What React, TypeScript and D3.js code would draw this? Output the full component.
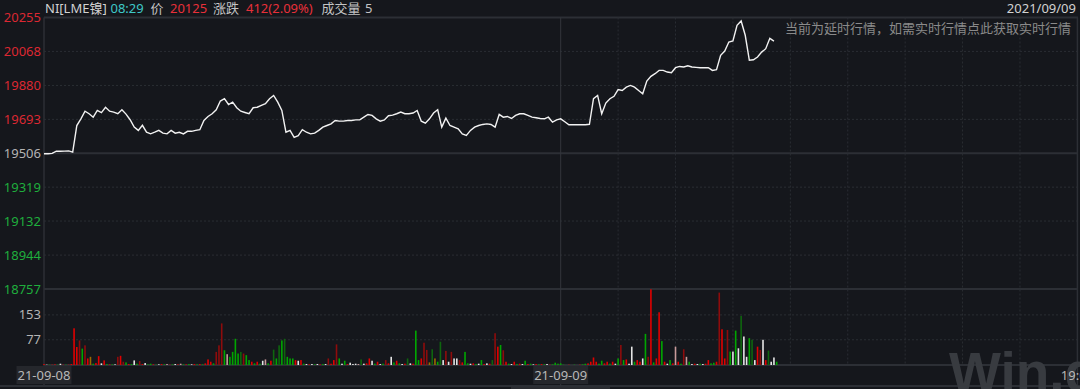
import React, { useRef, useEffect } from 'react';
import * as d3 from 'd3';

// price axis labels (pre-close in the middle)
const priceTicks = [20255, 20068, 19880, 19693, 19506, 19319, 19132, 18944, 18757];
const preClose = 19506;
const volTicks = [153, 77];

// bottom axis: position in hour slots
const dateLabels = [
  { label: '21-09-08', at: 0, box: true },
  { label: '21-09-09', at: 9, box: true },
  { label: '19:00', at: 18, box: false },
];
const hourLines = [10, 11, 12, 13, 14, 15, 16, 17];

// one price sample every 1/14 slot
const prices = [
  19503, 19503, 19505, 19517, 19517, 19518, 19519, 19512,
  19659, 19696, 19738, 19724, 19705, 19742, 19730, 19760,
  19738, 19733, 19724, 19746, 19722, 19691, 19650, 19632,
  19660, 19622, 19613, 19622, 19632, 19617, 19613, 19632,
  19617, 19622, 19613, 19627, 19627, 19632, 19636, 19687,
  19709, 19724, 19746, 19794, 19807, 19775, 19788, 19757,
  19738, 19731, 19724, 19757, 19760, 19770, 19779, 19807,
  19825, 19788, 19742, 19622, 19632, 19594, 19603, 19636,
  19622, 19613, 19617, 19632, 19650, 19659, 19668, 19687,
  19683, 19683, 19687, 19687, 19690, 19690, 19705, 19720,
  19715, 19696, 19683, 19690, 19713, 19716, 19724, 19733,
  19724, 19724, 19728, 19742, 19683, 19672, 19696, 19728,
  19746, 19650, 19700, 19659, 19650, 19641, 19613, 19604,
  19632, 19650, 19659, 19665, 19668, 19665, 19650, 19720,
  19705, 19709, 19698, 19715, 19724, 19724, 19715, 19705,
  19702, 19698, 19696, 19705, 19678, 19690, 19696, 19680,
  19663, 19663, 19663, 19663, 19663, 19666, 19807, 19825,
  19724, 19783, 19807, 19820, 19857, 19852, 19871, 19880,
  19871, 19852, 19834, 19904, 19930, 19945, 19963, 19963,
  19954, 19950, 19978, 19985, 19982, 19989, 19982, 19980,
  19978, 19978, 19978, 19963, 19967, 20046, 20070, 20120,
  20126, 20212, 20236, 20157, 20019, 20022, 20037, 20064,
  20083, 20140, 20125,
];

// one volume bar every 1/21 slot
const volumes = [
  3, 1, 1, 1, 2, 1, 4, 1, 1, 1,
  3, 112, 55, 75, 50, 60, 20, 25, 4, 6,
  27, 5, 14, 3, 2, 2, 2, 25, 28, 10,
  8, 3, 3, 14, 4, 12, 3, 6, 2, 4,
  2, 1, 2, 3, 2, 3, 1, 2, 3, 2,
  4, 2, 2, 3, 2, 3, 2, 3, 2, 5,
  17, 10, 5, 40, 60, 127, 45, 33, 25, 40,
  80, 35, 40, 35, 30, 15, 10, 5, 10, 4,
  13, 17, 5, 13, 47, 20, 60, 75, 80, 25,
  20, 20, 15, 13, 15, 4, 3, 2, 3, 2,
  3, 2, 3, 3, 20, 4, 15, 63, 20, 4,
  13, 3, 7, 3, 4, 3, 17, 4, 5, 20,
  13, 4, 10, 3, 4, 15, 5, 25, 8, 13,
  5, 3, 4, 20, 5, 4, 105, 15, 20, 68,
  46, 8, 48, 20, 10, 71, 15, 43, 10, 40,
  20, 20, 15, 8, 40, 5, 4, 5, 3, 4,
  15, 3, 5, 4, 15, 97, 56, 61, 45, 10,
  4, 3, 10, 3, 4, 3, 13, 3, 4, 2,
  3, 2, 3, 2, 3, 1, 2, 7, 4, 5,
  1, 0, 1, 0, 1, 0, 1, 2, 4, 5,
  10, 23, 10, 4, 13, 5, 10, 4, 10, 4,
  20, 61, 15, 17, 4, 56, 10, 15, 10, 20,
  95, 25, 231, 8, 20, 161, 73, 10, 4, 15,
  5, 56, 10, 4, 48, 25, 10, 3, 4, 3,
  4, 3, 4, 15, 5, 7, 10, 221, 109, 20,
  107, 41, 41, 105, 51, 150, 87, 25, 82, 77,
  15, 56, 46, 77, 15, 44, 10, 23, 10,
];
const volKinds = (
  'rwgrrgwrgr' + 'rrrRgRrogr' + 'rwrgrgwRrR' + 'grgwgRrwgg' + 'rgwrgprgwr' +
  'pgrgwrgrgr' + 'rrgRRRgpgg' + 'ggGRggrgrg' + 'wpgrGgGgGg' + 'ggrwrgwrwg' +
  'wrgwRrrRgw' + 'grwwwpGwrr' + 'wgrwgRrwgr' + 'gwrGwrggrR' + 'RoGogGwRwR' +
  'wwRrggwrgw' + 'grwrGRrgRr' + 'gwrgrwgrgw' + 'rgrgwrgggg' + 'ggrgggrggr' +
  'rrrggrrgrw' + 'gRgrwwgrrw' + 'gRrgrrgrwg' + 'rprgRpgwrw' + 'gwrrggrRrr' +
  'RgwgwGwwgG' + 'wrRwrGwwg'
).split('');

const kindColor = {
  r: '#e00000',
  R: '#8e0c0c',
  g: '#00a600',
  G: '#0e660e',
  w: '#e4e4e4',
  p: '#c89a9a',
  o: '#9a6a00',
};

const W = 1080, H = 389;
const FONT = '"Noto Sans", "Noto Sans CJK SC", sans-serif';

const App = () => {
  const svgRef = useRef(null);

  useEffect(() => {
    const svg = d3.select(svgRef.current);
    svg.selectAll('*').remove();

    const x = d3.scaleLinear().domain([0, 18]).range([44, 1077.4]);
    const yP = d3.scaleLinear().domain([18757, 20255]).range([289, 17.5]);
    const yV = d3.scaleLinear().domain([0, 232]).range([365, 289]);

    svg.append('rect').attr('width', W).attr('height', H).attr('fill', '#15171c');

    // horizontal grid - price panel
    priceTicks.forEach((t, i) => {
      const solid = i === 0 || t === preClose || i === priceTicks.length - 1;
      svg.append('line')
        .attr('x1', 44).attr('x2', 1078)
        .attr('y1', yP(t)).attr('y2', yP(t))
        .attr('stroke', solid ? '#2c2f35' : '#2a2d33')
        .attr('stroke-width', solid ? 2 : 1)
        .attr('stroke-dasharray', solid ? null : '2 2');
    });
    // volume panel grid
    volTicks.forEach((t) => {
      svg.append('line')
        .attr('x1', 44).attr('x2', 1078)
        .attr('y1', yV(t)).attr('y2', yV(t))
        .attr('stroke', '#2a2d33')
        .attr('stroke-dasharray', '2 2');
    });
    svg.append('line').attr('x1', 44).attr('x2', 1078).attr('y1', yV(0)).attr('y2', yV(0))
      .attr('stroke', '#2c2f35').attr('stroke-width', 2);
    svg.append('line').attr('x1', 0).attr('x2', W).attr('y1', 386).attr('y2', 386)
      .attr('stroke', '#2c2f35').attr('stroke-width', 2);

    // vertical lines
    hourLines.forEach((h) => {
      svg.append('line')
        .attr('x1', x(h)).attr('x2', x(h)).attr('y1', 17.5).attr('y2', 365)
        .attr('stroke', '#2a2d33').attr('stroke-dasharray', '2 2');
    });
    [0, 9, 18].forEach((h) => {
      svg.append('line')
        .attr('x1', x(h)).attr('x2', x(h)).attr('y1', 17.5).attr('y2', 386)
        .attr('stroke', h === 9 ? '#33363c' : '#2c2f35').attr('stroke-width', h === 9 ? 1 : 1.5);
    });

    // scrollbar strip
    svg.append('rect').attr('x', 511).attr('y', 387).attr('width', 99).attr('height', 2).attr('fill', '#2a2c31');

    // volume bars
    svg.append('g').selectAll('rect')
      .data(volumes)
      .enter().append('rect')
      .attr('x', (d, j) => x(j / 21) - 0.8)
      .attr('width', 1.6)
      .attr('y', (d) => yV(d))
      .attr('height', (d) => yV(0) - yV(d))
      .attr('fill', (d, j) => kindColor[volKinds[j]] || '#e00000');

    // price line
    const line = d3.line()
      .x((d, i) => x(i / 14))
      .y((d) => yP(d));
    svg.append('path')
      .datum(prices)
      .attr('d', line)
      .attr('fill', 'none')
      .attr('stroke', '#f2f2f2')
      .attr('stroke-width', 1.4);

    // y labels
    priceTicks.forEach((t) => {
      const c = t > preClose ? '#dc2832' : t < preClose ? '#1fae3c' : '#b4b4b4';
      svg.append('text')
        .attr('x', 41).attr('y', yP(t) + 4.5)
        .attr('text-anchor', 'end')
        .attr('font-size', 13).attr('font-family', FONT)
        .attr('fill', c).text(t);
    });
    volTicks.forEach((t) => {
      svg.append('text')
        .attr('x', 41).attr('y', yV(t) + 4.5)
        .attr('text-anchor', 'end')
        .attr('font-size', 13).attr('font-family', FONT)
        .attr('fill', '#b4b4b4').text(t);
    });

    // watermark
    svg.append('text')
      .attr('x', 949).attr('y', 391)
      .attr('font-size', 55).attr('font-weight', 'bold')
      .attr('font-family', '"Liberation Sans", Arial, sans-serif')
      .attr('fill', '#383b40')
      .text('Win.d');

    // bottom labels
    dateLabels.forEach((d) => {
      if (d.box) {
        svg.append('rect')
          .attr('x', x(d.at) - 27.5).attr('y', 366)
          .attr('width', 55).attr('height', 18)
          .attr('fill', '#25272c');
      }
      svg.append('text')
        .attr('x', x(d.at)).attr('y', 380)
        .attr('text-anchor', 'middle')
        .attr('font-size', 13).attr('font-family', FONT)
        .attr('fill', '#b8b8b8').text(d.label);
    });

    // header
    const header = [
      { t: 'NI[LME镍]', x: 45, c: '#d2d2d2' },
      { t: '08:29', x: 110.5, c: '#3ec8c8' },
      { t: '价', x: 150.5, c: '#c4c4c4' },
      { t: '20125', x: 170, c: '#e8303a' },
      { t: '涨跌', x: 213, c: '#c4c4c4' },
      { t: '412(2.09%)', x: 246, c: '#e8303a' },
      { t: '成交量', x: 321.5, c: '#c4c4c4' },
      { t: '5', x: 365, c: '#c4c4c4' },
    ];
    header.forEach((h) => {
      svg.append('text')
        .attr('x', h.x).attr('y', 12.5)
        .attr('font-size', 13).attr('font-family', FONT)
        .attr('fill', h.c).text(h.t);
    });
    svg.append('text')
      .attr('x', 1076).attr('y', 12.5).attr('text-anchor', 'end')
      .attr('font-size', 13).attr('font-family', FONT)
      .attr('fill', '#d2d2d2').text('2021/09/09');
    svg.append('text')
      .attr('x', 1071).attr('y', 33).attr('text-anchor', 'end')
      .attr('font-size', 13).attr('font-family', FONT)
      .attr('fill', '#8a8a8a').text('当前为延时行情，如需实时行情点此获取实时行情');
  }, []);

  return (
    <svg
      ref={svgRef}
      width={W}
      height={H}
      style={{ position: 'absolute', left: 0, top: 0, display: 'block' }}
    />
  );
};

export default App;
